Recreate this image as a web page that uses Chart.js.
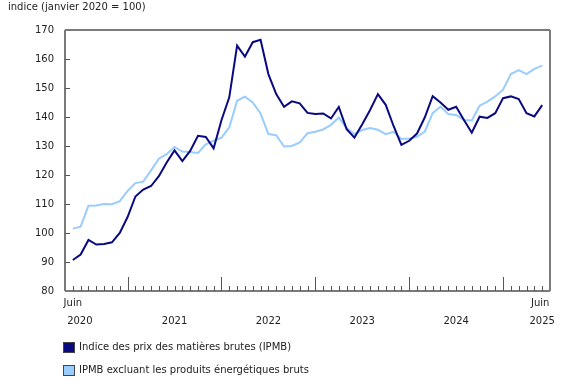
<!DOCTYPE html>
<html lang="fr">
<head>
<meta charset="utf-8">
<script src="https://cdn.jsdelivr.net/npm/chart.js@4.4.1/dist/chart.umd.min.js"></script>
<style>
  body { margin: 0; background: #fff; font-family: "DejaVu Sans", Verdana, sans-serif; color: #222; }
  #wrap { position: relative; width: 580px; height: 385px; }
  #titre { position: absolute; left: 8px; top: 1px; font-size: 10px; }
  .leg { position: absolute; left: 63px; font-size: 10px; line-height: 14px; display: flex; align-items: center; }
  .leg span { display: inline-block; width: 12px; height: 11px; border: 1px solid #444; margin-right: 4px; box-sizing: border-box; }
</style>
</head>
<body>
<div id="wrap">
  <canvas id="graphique" width="580" height="385"></canvas>
  <div id="titre">indice (janvier 2020 = 100)</div>
  <div class="leg" style="top:340px"><span style="background:#0a0a80"></span>Indice des prix des matières brutes (IPMB)</div>
  <div class="leg" style="top:363px"><span style="background:#99ccff"></span>IPMB excluant les produits énergétiques bruts</div>
</div>
<script>
// mois de juin 2020 à juin 2025
const moisNoms = ['janv.', 'févr.', 'mars', 'avr.', 'mai', 'juin', 'juil.', 'août', 'sept.', 'oct.', 'nov.', 'déc.'];
const premierMois = 5;   // juin
const premiereAnnee = 2020;
const nbMois = 61;

const ipmb = [
  90.7, 92.6, 97.6, 96.0, 96.2, 96.8, 100.0, 105.5, 112.6, 115.0, 116.2, 119.6,
  124.3, 128.5, 124.8, 128.3, 133.5, 133.1, 129.2, 138.9, 146.8, 164.6, 160.8, 165.8,
  166.6, 154.8, 147.9, 143.5, 145.4, 144.7, 141.4, 141.0, 141.2, 139.5, 143.5, 135.8,
  132.9, 137.5, 142.4, 147.9, 144.2, 136.9, 130.4, 131.8, 134.3, 139.9, 147.2, 145.0,
  142.5, 143.5, 139.0, 134.6, 140.1, 139.7, 141.3, 146.5, 147.1, 146.2, 141.3, 140.2,
  144.1
];

const ipmbSansEnergie = [
  101.5, 102.2, 109.4, 109.5, 110.0, 109.9, 111.0, 114.5, 117.2, 117.7, 121.6, 125.6,
  127.2, 129.7, 128.1, 127.9, 127.6, 130.6, 131.8, 132.9, 136.4, 145.6, 147.0, 145.0,
  141.2, 134.1, 133.7, 129.8, 130.0, 131.2, 134.4, 134.9, 135.7, 137.3, 139.8, 136.2,
  134.1, 135.5, 136.2, 135.6, 134.1, 134.9, 132.4, 132.6, 133.2, 135.0, 141.3, 143.6,
  141.0, 140.7, 139.0, 138.8, 143.9, 145.3, 147.1, 149.4, 154.8, 156.2, 154.8, 156.6,
  157.7
];

const yMin = 80;
const yMax = 170;
const yPas = 10;
const etiquettesAnnees = ['2021', '2022', '2023', '2024'];

const police = '"DejaVu Sans", Verdana, sans-serif';
const gris = '#7a7a7a';

// etiquettes des mois (une case vide de chaque cote pour la marge)
const mois = [];
const numeroMois = [];
for (let i = 0; i < nbMois; i++) {
  const m = (premierMois + i) % 12;
  const a = premiereAnnee + Math.floor((premierMois + i) / 12);
  mois.push(moisNoms[m] + ' ' + a);
  numeroMois.push(m);
}
const labels = ['', ...mois, ''];
const avecMarge = arr => [null, ...arr, null];

const cadrePlugin = {
  id: 'cadre',
  afterDatasetsDraw(chart) {
    const { ctx, chartArea: ca, scales } = chart;
    const xs = scales.x, ys = scales.y;
    ctx.save();
    ctx.strokeStyle = gris;
    ctx.lineWidth = 2;
    ctx.beginPath();
    ctx.moveTo(ca.left, ca.top); ctx.lineTo(ca.right, ca.top);
    ctx.moveTo(ca.right, ca.top); ctx.lineTo(ca.right, ca.bottom);
    ctx.moveTo(ca.left, ca.top); ctx.lineTo(ca.left, ca.bottom);
    ctx.moveTo(ca.left, ca.bottom); ctx.lineTo(ca.right, ca.bottom);
    ctx.stroke();

    // petites marques
    ctx.strokeStyle = '#555';
    ctx.lineWidth = 1;
    ctx.beginPath();
    for (let v = yMin + yPas; v < yMax; v += yPas) {
      const y = Math.round(ys.getPixelForValue(v)) + 0.5;
      ctx.moveTo(ca.left, y); ctx.lineTo(ca.left + 5, y);
    }
    for (let i = 0; i < nbMois; i++) {
      const x = Math.round(xs.getPixelForValue(i + 1)) + 0.5;
      const long = numeroMois[i] === 0 ? 14 : 5;
      ctx.moveTo(x, ca.bottom); ctx.lineTo(x, ca.bottom - long);
    }
    ctx.stroke();

    // etiquettes de l'axe des x
    ctx.fillStyle = '#222';
    ctx.font = '10px ' + police;
    ctx.textAlign = 'center';
    ctx.textBaseline = 'middle';
    const y1 = 303, y2 = 321;
    ctx.fillText('Juin', xs.getPixelForValue(1), y1);
    ctx.fillText(String(premiereAnnee), xs.getPixelForValue(1.9), y2);
    ctx.fillText('Juin', xs.getPixelForValue(nbMois) - 2, y1);
    ctx.fillText(String(premiereAnnee + 5), xs.getPixelForValue(nbMois), y2);
    etiquettesAnnees.forEach((a, k) => {
      const debut = 1 + 7 + 12 * k; // janvier
      ctx.fillText(a, xs.getPixelForValue(debut + 6), y2);
    });
    ctx.restore();
  }
};

new Chart(document.getElementById('graphique'), {
  type: 'line',
  data: {
    labels: labels,
    datasets: [
      {
        label: 'Indice des prix des matières brutes (IPMB)',
        data: avecMarge(ipmb),
        borderColor: '#0a0a80',
        borderWidth: 2,
        pointRadius: 0,
        tension: 0,
        fill: false
      },
      {
        label: 'IPMB excluant les produits énergétiques bruts',
        data: avecMarge(ipmbSansEnergie),
        borderColor: '#99ccff',
        borderWidth: 2,
        pointRadius: 0,
        tension: 0,
        fill: false
      }
    ]
  },
  options: {
    responsive: false,
    animation: false,
    layout: { padding: { top: 30, right: 30, left: 0, bottom: 0 } },
    plugins: { legend: { display: false }, tooltip: { enabled: false } },
    scales: {
      x: {
        type: 'category',
        grid: { display: false, drawTicks: false },
        border: { display: false },
        ticks: { display: false },
        afterFit(s) { s.height = 94; }
      },
      y: {
        min: yMin,
        max: yMax,
        ticks: { stepSize: yPas, color: '#222', padding: 11, font: { family: police, size: 10 } },
        grid: { display: false, drawTicks: false },
        border: { display: false },
        afterFit(s) { s.width = 65; }
      }
    }
  },
  plugins: [cadrePlugin]
});
</script>
</body>
</html>
